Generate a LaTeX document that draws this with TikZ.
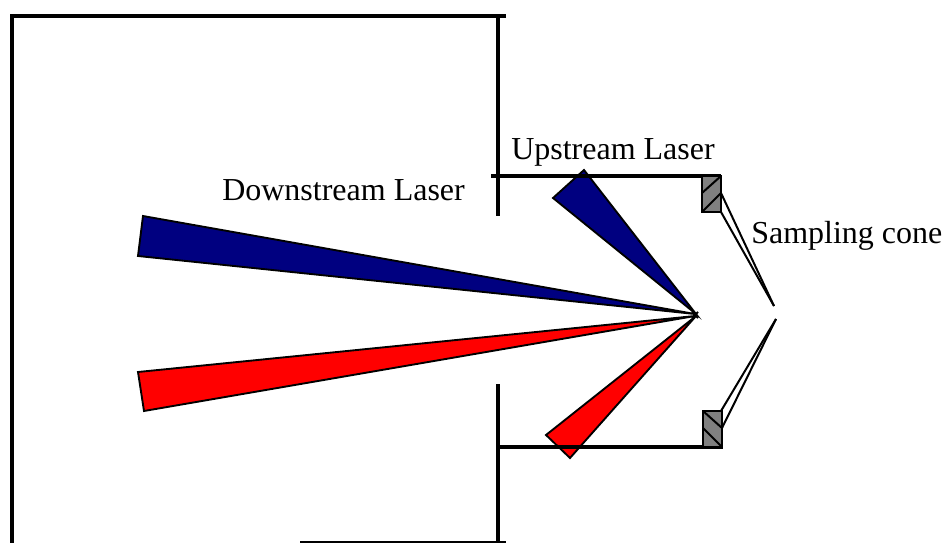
\documentclass[tikz,border=0pt]{standalone}
\usepackage{fontspec}
\setmainfont{Liberation Serif}
\usepackage{xcolor}
\definecolor{beamblue}{RGB}{0,0,128}
\definecolor{beamred}{RGB}{255,0,0}
\definecolor{conegrey}{RGB}{128,128,128}
\begin{document}
\begin{tikzpicture}[
  x=0.75pt, y=-0.75pt,
  wall/.style={line width=3.6pt},
  tube/.style={line width=2.8pt},
  beam/.style={draw=black, line width=1.4pt, line join=miter},
  cone/.style={line width=1.5pt},
  block/.style={draw=black, fill=conegrey, line width=1.7pt},
  lbl/.style={font=\fontsize{24}{28}\selectfont, inner sep=0pt, anchor=base west}
]
\useasboundingbox (0,0) rectangle (942,543);
% laser beams
\fill[beam, fill=beamblue] (143,216) -- (138,256) -- (695,314) -- cycle;
\fill[beam, fill=beamred] (138,372) -- (144,411) -- (695,316) -- cycle;
\fill[beam, fill=beamblue] (553,198) -- (584,170) -- (696,314) -- cycle;
\fill[beam, fill=beamred] (546,435) -- (570,458) -- (696,316) -- cycle;
\draw[cone] (692,312) -- (698,318);
\draw[cone] (692,318) -- (698,312);
% chamber
\draw[wall] (506,16) -- (10,16);
\draw[wall] (12,14) -- (12,543);
\draw[wall] (498,16) -- (498,216);
\draw[wall] (498,384) -- (498,543);
\draw[line width=2pt] (300,542) -- (506,542);
\draw[tube] (491,176) -- (721,176);
\draw[tube] (496,447) -- (723,447);
% cone holder
\draw[block] (702,176) rectangle (721,212);
\draw[block] (703,411) rectangle (722,447);
\draw[cone] (702,193) -- (721,176);
\draw[cone] (702,212) -- (721,193);
\draw[cone] (703,411) -- (722,428);
\draw[cone] (703,428) -- (722,447);
% sampling cone
\draw[cone] (721,193) -- (774,306);
\draw[cone] (721,212) -- (774,306);
\draw[cone] (721,411) -- (776,319);
\draw[cone] (722,428) -- (776,319);
% labels
\node[lbl] (downstream) at (222,200) {Downstream Laser};
\node[lbl] (upstream) at (511,159) {Upstream Laser};
\node[lbl] (sampling) at (751,243) {Sampling cone};
\end{tikzpicture}
\end{document}
